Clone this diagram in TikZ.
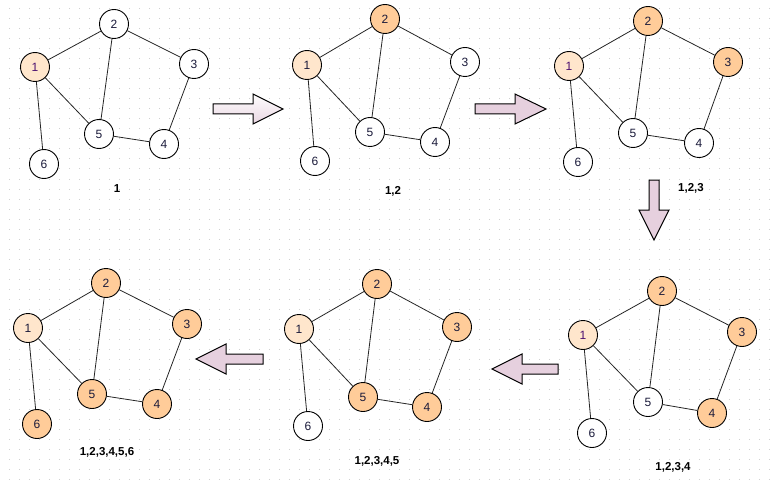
\documentclass[tikz,border=0pt]{standalone}
\usepackage{fontspec}
\setmainfont{Liberation Sans}
\definecolor{orng}{HTML}{FFCC99}
\definecolor{peach}{HTML}{FFE6CC}
\definecolor{mauve}{HTML}{E6D0DE}
\definecolor{txt}{HTML}{1A1A3A}
\definecolor{purp}{HTML}{4B1070}
\definecolor{dotc}{HTML}{CFCFCF}
\tikzset{
  v/.style={circle, draw=black, line width=0.9pt, minimum size=29pt, inner sep=0pt,
            font=\fontsize{12}{14}\selectfont, text=txt, fill=white},
  fst/.style={v, fill=peach},
  vis/.style={v, fill=orng},
  edge/.style={draw=black!85, line width=0.8pt},
  lbl/.style={font=\bfseries\fontsize{11.5}{13}\selectfont, text=black},
  blk/.style={draw=black, line width=1pt, fill=mauve, line join=miter},
}
\begin{document}
\begin{tikzpicture}[x=1pt,y=-1pt]
\useasboundingbox (0,0) rectangle (770,481);
\fill[white] (0,0) rectangle (770,481);
% dot grid
\foreach \i in {0,...,76}{\foreach \j in {0,...,47}{
  \fill[dotc] (10*\i+8.5,10*\j+8.5) rectangle +(1,1);}}
% ---------- graph 1 ----------
\node[fst,text=purp] (a1) at (35,67) {1};
\node[v] (a2) at (114,24) {2};
\node[v] (a3) at (194,64) {3};
\node[v] (a4) at (164,144) {4};
\node[v] (a5) at (99,134) {5};
\node[v] (a6) at (44,164) {6};
\node[lbl] (la) at (117,189) {1};
% ---------- graph 2 ----------
\node[fst] (b1) at (307,65) {1};
\node[vis] (b2) at (385,19) {2};
\node[v] (b3) at (465,62) {3};
\node[v] (b4) at (435,142) {4};
\node[v] (b5) at (370,132) {5};
\node[v] (b6) at (315,161) {6};
\node[lbl] (lb) at (393,191) {1,2};
% ---------- graph 3 ----------
\node[fst,text=purp] (c1) at (569,66) {1};
\node[vis] (c2) at (648,21) {2};
\node[vis] (c3) at (728,62) {3};
\node[v] (c4) at (699,143) {4};
\node[v] (c5) at (633,133) {5};
\node[v] (c6) at (578,162) {6};
\node[lbl] (lc) at (691,188) {1,2,3};
% ---------- graph 4 ----------
\node[fst,text=purp] (d1) at (583,335) {1};
\node[vis] (d2) at (662,291) {2};
\node[vis] (d3) at (742,332) {3};
\node[vis] (d4) at (712,413) {4};
\node[v] (d5) at (648,402) {5};
\node[v] (d6) at (592,433) {6};
\node[lbl] (ld) at (673,467) {1,2,3,4};
% ---------- graph 5 ----------
\node[fst] (e1) at (299,329) {1};
\node[vis] (e2) at (377,284) {2};
\node[vis] (e3) at (457,327) {3};
\node[vis] (e4) at (427,407) {4};
\node[vis] (e5) at (363,397) {5};
\node[v] (e6) at (308,426) {6};
\node[lbl] (le) at (377,461) {1,2,3,4,5};
% ---------- graph 6 ----------
\node[fst] (f1) at (28,328) {1};
\node[vis] (f2) at (106,283) {2};
\node[vis] (f3) at (187,324) {3};
\node[vis] (f4) at (157,404) {4};
\node[vis] (f5) at (92,394) {5};
\node[vis] (f6) at (37,424) {6};
\node[lbl] (lf) at (107,452) {1,2,3,4,5,6};
% edges
\foreach \g in {a,b,c,d,e,f}{
  \draw[edge] (\g1) -- (\g2);
  \draw[edge] (\g1) -- (\g5);
  \draw[edge] (\g1) -- (\g6);
  \draw[edge] (\g2) -- (\g5);
  \draw[edge] (\g2) -- (\g3);
  \draw[edge] (\g3) -- (\g4);
  \draw[edge] (\g4) -- (\g5);
}
% block arrows
\draw[blk, fill=none, top color=white!96!mauve, bottom color=mauve!85!white]
  (213,104) -- (253,104) -- (253,94) -- (283,109) -- (253,124) -- (253,114) -- (213,114) -- cycle;
\draw[blk] (475,104) -- (515,104) -- (515,94) -- (546,109) -- (515,124) -- (515,114) -- (475,114) -- cycle;
\draw[blk] (649,180) -- (649,210) -- (639,210) -- (654,240) -- (669,210) -- (659,210) -- (659,180) -- cycle;
\draw[blk] (558,364) -- (522,364) -- (522,354) -- (492,369) -- (522,384) -- (522,374) -- (558,374) -- cycle;
\draw[blk] (263,354) -- (226,354) -- (226,344) -- (196,359) -- (226,374) -- (226,364) -- (263,364) -- cycle;
\end{tikzpicture}
\end{document}
